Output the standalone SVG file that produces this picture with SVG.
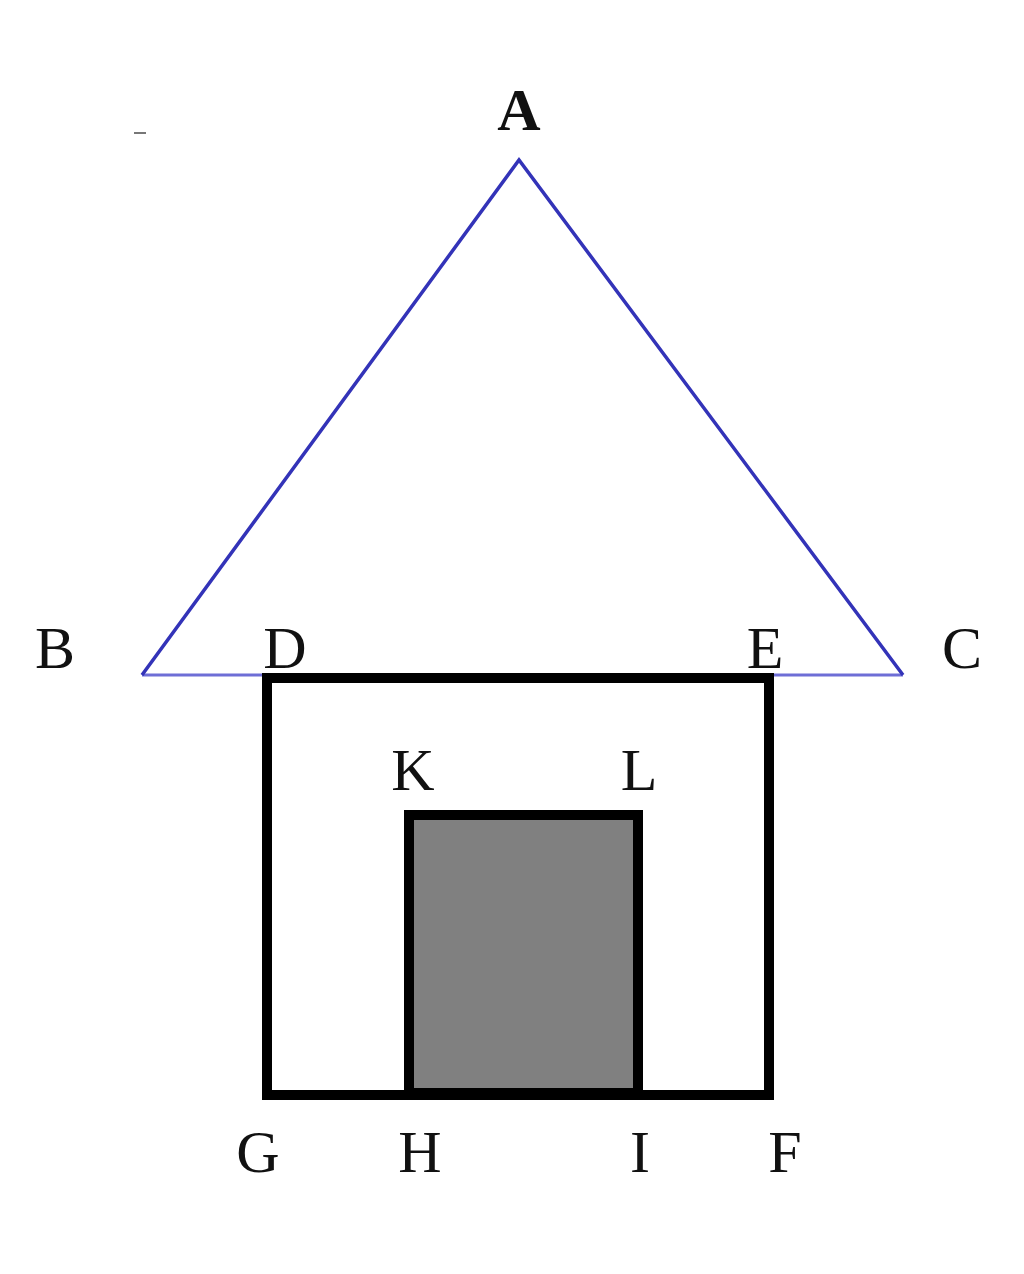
<svg xmlns="http://www.w3.org/2000/svg" width="1024" height="1274" viewBox="0 0 1024 1274">
<style>
.lbl{font-family:"Liberation Serif","Times New Roman",serif;font-size:60px;fill:#111;text-anchor:middle}
.box{fill:none;stroke:#000;stroke-width:10}
</style>
<rect width="1024" height="1274" fill="#fff"/>
<g id="triangle">
<line x1="142" y1="675" x2="903" y2="675" stroke="#6e6ed6" stroke-width="3"/>
<polyline points="142,675 519,160 903,675" fill="none" stroke="#3333b8" stroke-width="3.5" stroke-linejoin="miter"/>
</g>
<g id="house">
<rect class="box" x="267" y="678" width="502" height="417"/>
</g>
<g id="door">
<rect x="409" y="815" width="229" height="278" fill="#808080" stroke="#000" stroke-width="10"/>
</g>
<g id="labels">
<line x1="134" y1="133" x2="146" y2="133" stroke="#777" stroke-width="2"/>
<text class="lbl" x="519" y="130" font-weight="bold">A</text>
<text class="lbl" x="55" y="668">B</text>
<text class="lbl" x="285" y="668">D</text>
<text class="lbl" x="765" y="668">E</text>
<text class="lbl" x="962" y="668">C</text>
<text class="lbl" x="413" y="790">K</text>
<text class="lbl" x="639" y="790">L</text>
<text class="lbl" x="258" y="1172">G</text>
<text class="lbl" x="420" y="1172">H</text>
<text class="lbl" x="640" y="1172">I</text>
<text class="lbl" x="785" y="1172">F</text>
</g>
</svg>
